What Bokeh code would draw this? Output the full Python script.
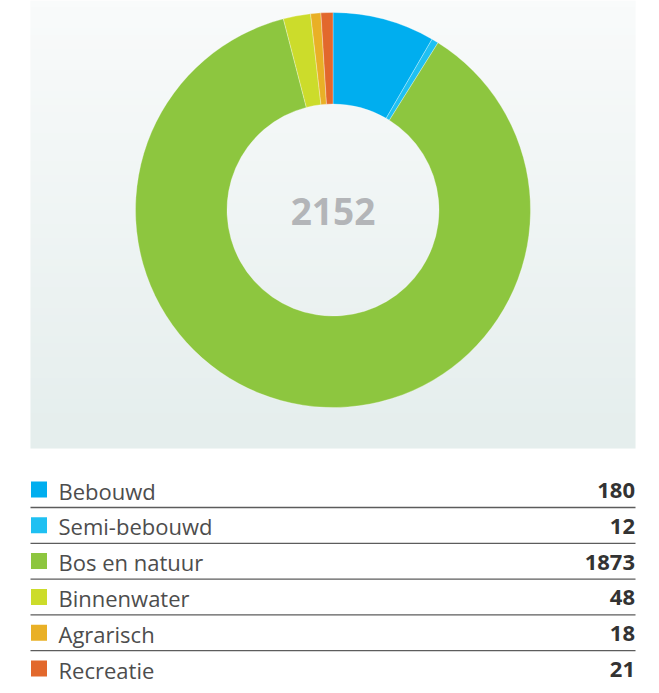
import numpy as np
from bokeh.plotting import figure
from bokeh.models import Range1d, ColumnDataSource
from bokeh.core.properties import value
from bokeh.embed import file_html
from bokeh.resources import INLINE

# ---- data ----
categories = ["Bebouwd", "Semi-bebouwd", "Bos en natuur", "Binnenwater", "Agrarisch", "Recreatie"]
values = [180, 12, 1873, 48, 18, 21]
colors = ["#00AEEF", "#1FC0F2", "#8DC63F", "#CCDC2B", "#E9B026", "#E2682C"]
total_label = "2152"

# ---- figure: data coords = picture pixels (x), negative picture pixels (y) ----
W, H = 651, 685
p = figure(width=W, height=H, x_range=Range1d(0, W), y_range=Range1d(-H, 0),
           x_axis_type=None, y_axis_type=None, toolbar_location=None,
           output_backend="svg", min_border=0, outline_line_color=None,
           background_fill_color="white", border_fill_color="white")
p.grid.visible = False

# background panel with vertical gradient
n = 64
top = np.array([249, 251, 251], dtype=float)
bot = np.array([229, 238, 237], dtype=float)
img = np.empty((n, 1), dtype=np.uint32)
view = img.view(dtype=np.uint8).reshape((n, 1, 4))
for i in range(n):
    t = i / (n - 1)  # row 0 = bottom
    c = bot * (1 - t) + top * t
    view[i, 0, 0:3] = c.astype(np.uint8)
    view[i, 0, 3] = 255
p.image_rgba(image=[img], x=30, y=-448, dw=605, dh=448)

# donut
vals = np.array(values, dtype=float)
tot = vals.sum()
cum = np.concatenate([[0], np.cumsum(vals)])
start = np.pi / 2 - 2 * np.pi * cum[:-1] / tot
end = np.pi / 2 - 2 * np.pi * cum[1:] / tot
src = ColumnDataSource(dict(start=start, end=end, color=colors))
p.annular_wedge(x=332.5, y=-209.5, inner_radius=106, outer_radius=197.5,
                start_angle="start", end_angle="end", direction="clock",
                fill_color="color", line_color="white", line_width=0.6, line_alpha=0.5,
                source=src)

p.text(x=[332.5], y=[-211], text=[total_label], text_font=value("Open Sans"),
       text_font_style="bold", text_font_size="37px", text_color="#B3B5B8",
       text_align="center", text_baseline="middle")

# legend table
step = 35.8
row_y = [-(489.0 + step * i) for i in range(len(categories))]
line_y = [-(507.0 + step * i) for i in range(len(categories) - 1)]
p.segment(x0=30, x1=635, y0=line_y, y1=line_y, line_color="#5c5c5c", line_width=1.3)
p.rect(x=[38.5] * len(categories), y=row_y, width=16, height=16,
       fill_color=colors, line_color=None)
p.text(x=[58] * len(categories), y=[y - 1 for y in row_y], text=categories,
       text_font=value("Open Sans"), text_font_size="22px", text_color="#4d4d4d",
       text_align="left", text_baseline="middle")
p.text(x=[634.5] * len(categories), y=[y - 1 for y in row_y], text=[str(v) for v in values],
       text_font=value("Open Sans"), text_font_style="bold", text_font_size="22px",
       text_color="#333333", text_align="right", text_baseline="middle")

open("out.html", "w").write(file_html(p, INLINE))
